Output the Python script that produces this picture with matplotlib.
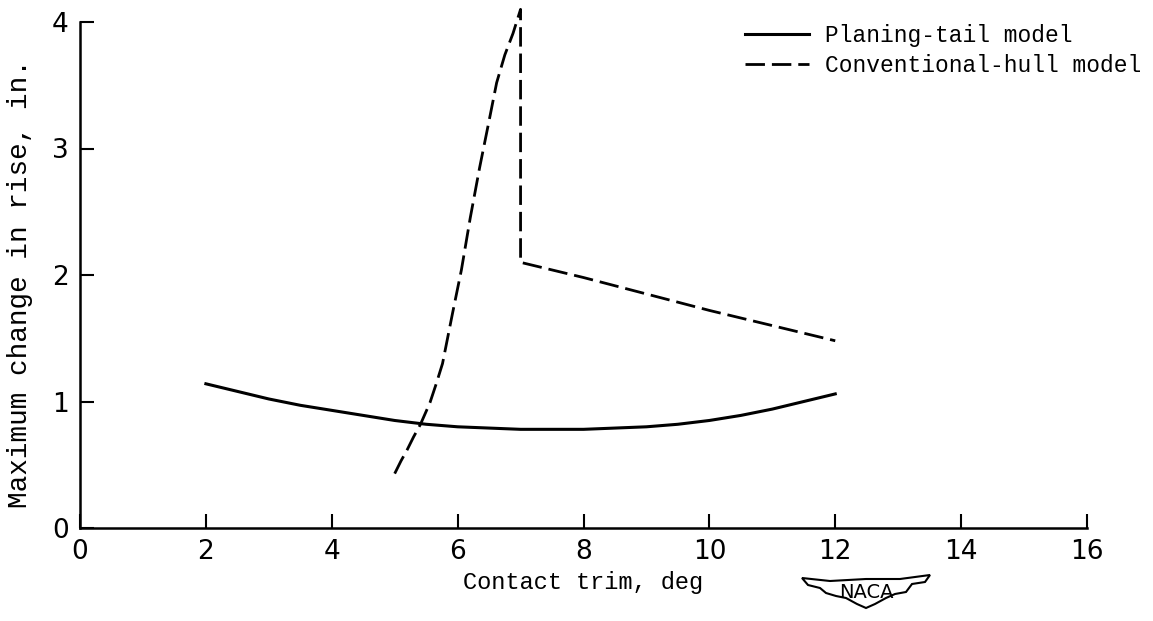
import numpy as np
import matplotlib.pyplot as plt
from matplotlib.patches import Polygon

# values
planing_trim = [2, 2.5, 3, 3.5, 4, 4.5, 5, 5.5, 6, 6.5, 7, 7.5, 8, 8.5, 9, 9.5, 10, 10.5, 11, 11.5, 12]
planing_rise = [1.14, 1.08, 1.02, 0.97, 0.93, 0.89, 0.85, 0.82, 0.80, 0.79, 0.78, 0.78, 0.78,
                0.79, 0.80, 0.82, 0.85, 0.89, 0.94, 1.00, 1.06]

conv_trim = [5.0, 5.1, 5.2, 5.3, 5.41, 5.56, 5.66, 5.76, 5.84, 5.92, 6.06, 6.2, 6.35, 6.5,
             6.62, 6.75, 6.88, 7.0, 7.0, 8.0, 9.0, 10.0, 11.0, 12.0]
conv_rise = [0.43, 0.53, 0.62, 0.72, 0.82, 0.99, 1.14, 1.30, 1.50, 1.70, 2.04, 2.45, 2.85, 3.22,
             3.52, 3.74, 3.91, 4.10, 2.10, 1.98, 1.85, 1.72, 1.60, 1.48]

xticks = [0, 2, 4, 6, 8, 10, 12, 14, 16]
yticks = [0, 1, 2, 3, 4]

mono = ['Liberation Mono', 'DejaVu Sans Mono']

fig = plt.figure(figsize=(11.53, 6.21), dpi=100)
ax = fig.add_axes([80 / 1153, 1 - 528 / 621, (1087 - 80) / 1153, (528 - 22) / 621])

ax.plot(planing_trim, planing_rise, color='black', lw=2.2, label='Planing-tail model')
ax.plot(conv_trim, conv_rise, color='black', lw=2.0, dashes=(7, 2.5), clip_on=False,
        label='Conventional-hull model')

ax.set_xlim(0, 16)
ax.set_ylim(0, 4)
ax.set_xticks(xticks)
ax.set_yticks(yticks)
ax.tick_params(direction='in', length=10, width=1.5, labelsize=19, pad=8)
for s in ['top', 'right']:
    ax.spines[s].set_visible(False)
for s in ['left', 'bottom']:
    ax.spines[s].set_linewidth(1.8)

ax.set_xlabel('Contact trim, deg', family=mono, fontsize=17, labelpad=4)
ax.set_ylabel('Maximum change in rise, in.', family=mono, fontsize=20)
ax.yaxis.set_label_coords(-0.047, 0.484)

leg = ax.legend(loc='upper left', bbox_to_anchor=(745 / 1153, 1 - 24 / 621),
                bbox_transform=fig.transFigure, frameon=False, prop={'family': mono, 'size': 16.5},
                handlelength=2.8, handletextpad=0.7, labelspacing=0.3,
                borderpad=0, borderaxespad=0)

# NACA wing badge under the x axis
W, H = 1153, 621
wing = [(802, 578), (830, 581), (866, 579), (900, 579), (930, 575), (925, 582), (912, 584),
        (906, 592), (895, 594), (886, 598), (875, 604), (866, 608), (857, 604), (846, 598),
        (836, 596), (826, 593), (820, 588), (808, 585)]
poly = Polygon([(x / W, 1 - y / H) for x, y in wing], closed=True, fill=False,
               edgecolor='black', lw=1.5, transform=fig.transFigure)
fig.add_artist(poly)
fig.text(866 / W, 1 - 592 / H, 'NACA', ha='center', va='center', fontsize=14,
         family='DejaVu Sans')

fig.savefig('out.png', dpi=100)
